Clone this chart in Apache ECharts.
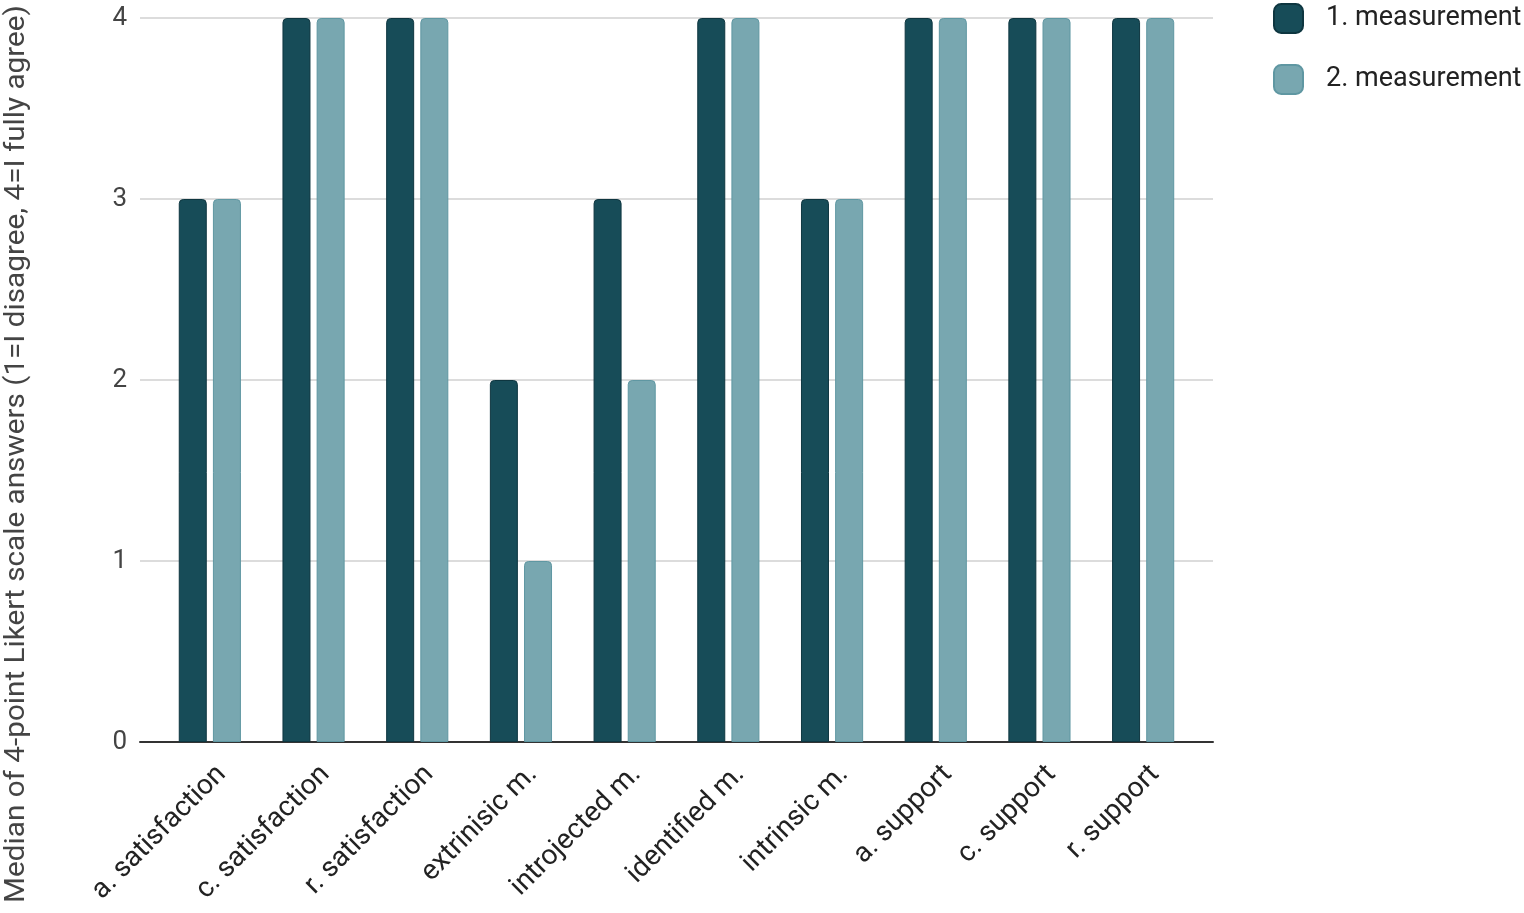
<!DOCTYPE html>
<html>
<head>
<meta charset="utf-8">
<script src="https://cdn.jsdelivr.net/npm/echarts@6/dist/echarts.min.js"></script>
<style>html,body{margin:0;padding:0;background:#fff}#c{width:1524px;height:913px}</style>
</head>
<body>
<div id="c"></div>
<script>
const categories = ['a. satisfaction','c. satisfaction','r. satisfaction','extrinisic m.','introjected m.','identified m.','intrinsic m.','a. support','c. support','r. support'];
const measurement1 = [3,4,4,2,3,4,3,4,4,4];
const measurement2 = [3,4,4,1,2,4,3,4,4,4];
const seriesNames = ['1. measurement','2. measurement'];
const yTicks = [0,1,2,3,4];
const yAxisTitle = 'Median of 4-point Likert scale answers (1=I disagree, 4=I fully agree)';

const FONT = 'Roboto';
const chart = echarts.init(document.getElementById('c'), null, {renderer:'canvas'});
const TOP = 18, BOTTOM = 171;
chart.setOption({
  animation:false,
  backgroundColor:'#fff',
  textStyle:{fontFamily:FONT},
  grid:[
    {left:140, width:1073, top:TOP, bottom:BOTTOM},
    {left:158, width:1037, top:TOP, bottom:BOTTOM},
    {left:170, width:1037, top:TOP, bottom:BOTTOM}
  ],
  legend:{
    orient:'vertical', left:1273, top:3, padding:0, itemWidth:29, itemHeight:29, itemGap:30,
    icon:'roundRect',
    data:seriesNames,
    textStyle:{fontFamily:FONT, fontSize:27, color:'#222', padding:[0,0,0,18]}
  },
  xAxis:[
    {gridIndex:0, type:'value', min:0, max:1, axisLine:{show:true, onZero:false, lineStyle:{color:'#333', width:2}}, axisTick:{show:false}, axisLabel:{show:false}, splitLine:{show:false}},
    {gridIndex:1, type:'category', data:categories, axisLine:{show:false}, axisTick:{show:false}, axisLabel:{show:false}},
    {gridIndex:2, type:'category', data:categories, axisLine:{show:false}, axisTick:{show:false},
      axisLabel:{show:true, interval:0, rotate:45, margin:28, fontFamily:FONT, fontSize:28, color:'#222'}}
  ],
  yAxis:[
    {gridIndex:0, type:'value', min:0, max:4, interval:1, axisLine:{show:false}, axisTick:{show:false},
      axisLabel:{margin:13, fontFamily:FONT, fontSize:26, color:'#444', formatter:v=>yTicks.includes(v)?String(v):''},
      splitLine:{show:true, lineStyle:{color:'#d0d0d0', width:1.5}}},
    {gridIndex:1, type:'value', min:0, max:4, interval:1, show:false},
    {gridIndex:2, type:'value', min:0, max:4, interval:1, show:false}
  ],
  series:[
    {name:seriesNames[0], type:'bar', xAxisIndex:1, yAxisIndex:1, data:measurement1, barWidth:28, barGap:'22%',
      itemStyle:{color:'#174c58', borderColor:'#0e3640', borderWidth:1, borderRadius:[4,4,0,0]}},
    {name:seriesNames[1], type:'bar', xAxisIndex:1, yAxisIndex:1, data:measurement2, barWidth:28,
      itemStyle:{color:'#78a7b0', borderColor:'#5f97a2', borderWidth:1, borderRadius:[4,4,0,0]}}
  ],
  graphic:[
    {type:'text', x:17, y:454, rotation:Math.PI/2, scaleX:1.1, style:{text:yAxisTitle, fontFamily:FONT, fontSize:27, fill:'#444', textAlign:'center', textVerticalAlign:'middle'}}
  ]
});
</script>
</body>
</html>
